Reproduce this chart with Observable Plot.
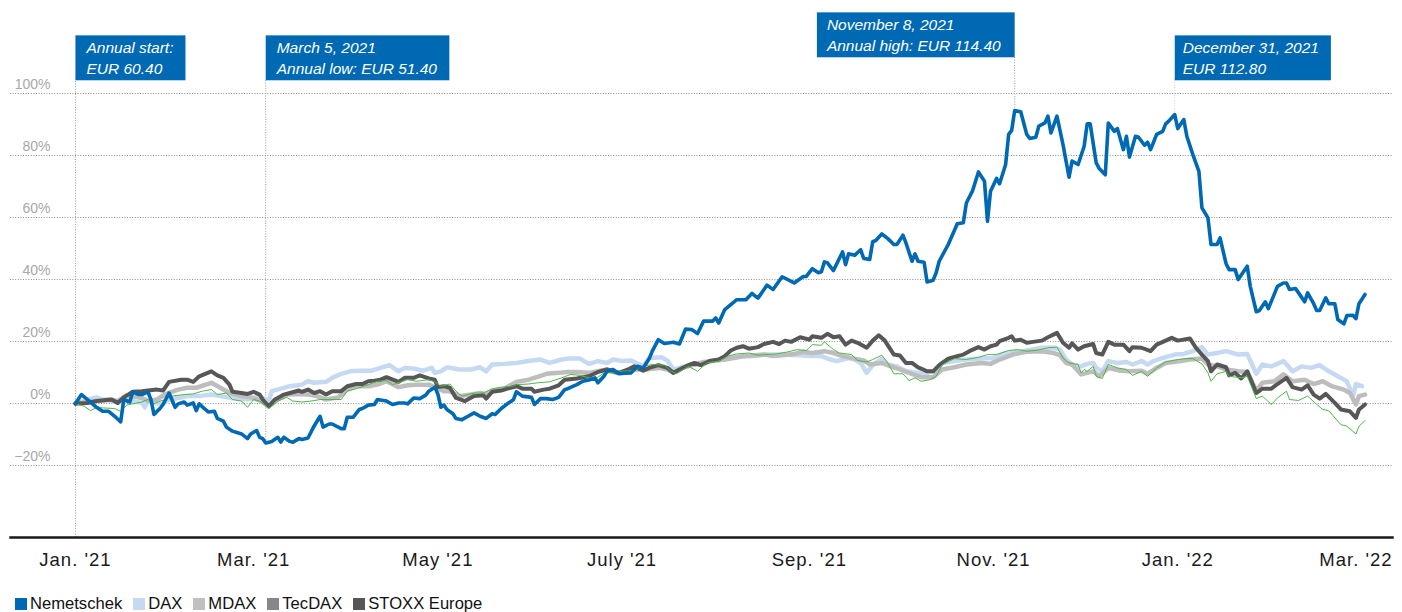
<!DOCTYPE html>
<html><head><meta charset="utf-8">
<script src="https://cdn.jsdelivr.net/npm/d3@7"></script>
<script src="https://cdn.jsdelivr.net/npm/@observablehq/plot@0.6"></script>
<style>
body{margin:0;background:#fff;font-family:"Liberation Sans",Arial,sans-serif;}
#legend{display:flex;align-items:center;height:20px;margin-top:2px;padding-left:15px;font-size:16.6px;color:#111;}
.item{display:flex;align-items:center;margin-right:11px;}
.sw{width:12px;height:12px;margin-right:3px;}
</style></head><body><div id="chart"></div><div id="legend"></div>
<script>
// ---- data: [days since 2021-01-01, % change] ----
const nemetschek = [[0,0],[2,2.9],[4,1.3],[7,-1.2],[9,-2.5],[11,-2.5],[13,-4.1],[15,-5.9],[16,1.3],[18,0.5],[19,3.8],[21,2.9],[22,2.9],[24,3.8],[25,1.3],[26,-3.5],[28,-1.6],[29,-0.3],[31,3.4],[33,-1.2],[34,-0.1],[36,0.5],[37,-0.5],[39,0.2],[40,-2.3],[41,-0.1],[43,-1.9],[44,-2.7],[46,-2.5],[47,-4.8],[49,-5.7],[50,-7.6],[52,-8.9],[54,-9.5],[55,-9.8],[57,-11.3],[58,-9.8],[60,-8.7],[61,-10.9],[62,-11.3],[63,-12.7],[65,-12.2],[67,-10.9],[68,-12.4],[69,-10.9],[71,-12.2],[72,-12.5],[74,-11.3],[75,-11.6],[77,-11.1],[79,-7.3],[81,-4.1],[82,-7.6],[84,-6.6],[85,-6.6],[88,-8.1],[89,-8.1],[90,-4.4],[92,-4.4],[94,-1.9],[95,-1.6],[97,-0.5],[99,-0.3],[100,1.3],[102,1.0],[103,0.8],[105,-0.3],[107,0.2],[109,0.2],[110,-0.1],[112,1.8],[114,1.6],[116,2.7],[117,4.0],[119,5.3],[120,3.1],[121,-1.2],[122,-0.5],[123,-1.9],[125,-3.3],[126,-4.8],[128,-5.2],[130,-4.1],[132,-3.0],[134,-4.1],[136,-4.8],[138,-3.3],[139,-3.5],[141,-1.6],[143,-0.1],[145,1.2],[146,3.8],[148,2.4],[151,2.0],[152,-0.3],[154,1.6],[156,1.6],[158,1.3],[160,2.0],[162,4.5],[163,4.8],[166,6.1],[168,7.2],[170,7.6],[172,8.3],[173,6.7],[175,8.8],[176,10.4],[178,11.0],[180,9.6],[182,9.8],[184,9.9],[186,12.0],[188,11.5],[190,14.5],[191,16.9],[193,20.6],[195,19.4],[198,19.8],[200,19.2],[202,24.0],[204,23.9],[206,22.6],[208,26.6],[211,26.6],[212,27.6],[213,26.0],[215,30.3],[219,33.5],[222,33.5],[224,35.5],[226,34.0],[228,36.8],[229,38.2],[231,36.8],[234,40.9],[238,38.9],[241,41.0],[242,41.0],[244,43.5],[246,42.2],[247,42.5],[248,45.7],[249,45.4],[251,42.9],[254,48.9],[255,44.8],[256,48.3],[258,47.8],[260,49.6],[261,46.8],[263,46.5],[264,52.2],[265,52.6],[267,54.7],[269,53.2],[271,51.3],[272,51.3],[274,54.3],[275,51.8],[277,45.9],[278,48.3],[279,45.9],[281,45.6],[282,39.2],[284,39.8],[285,42.2],[286,45.9],[289,51.3],[292,58.0],[294,58.3],[295,64.7],[297,68.5],[299,74.7],[301,71.7],[302,58.8],[303,68.5],[305,72.6],[306,70.9],[308,77.1],[309,86.8],[310,88.1],[311,94.5],[313,94.1],[315,86.8],[316,85.5],[318,85.9],[319,89.5],[321,90.5],[322,92.7],[323,87.3],[325,92.7],[327,83.5],[329,73.0],[330,78.2],[332,77.1],[334,83.0],[335,90.2],[336,90.2],[338,77.6],[339,75.8],[341,73.8],[342,90.5],[344,87.8],[345,88.7],[347,81.9],[348,86.2],[349,79.5],[351,86.2],[352,85.9],[354,83.3],[355,84.3],[356,81.9],[358,86.8],[360,87.8],[361,90.2],[362,91.1],[364,93.2],[365,88.7],[367,91.6],[368,86.2],[370,80.3],[372,74.9],[373,63.1],[375,59.9],[376,51.3],[378,51.3],[379,53.4],[381,45.1],[382,43.2],[384,43.2],[385,40.0],[388,44.3],[389,37.8],[391,29.6],[392,30.0],[394,32.8],[395,30.6],[398,37.8],[400,38.9],[401,38.9],[402,36.8],[404,37.1],[405,35.7],[407,32.8],[408,35.7],[410,32.2],[411,30.0],[412,30.0],[414,34.1],[415,32.2],[417,32.2],[418,27.1],[420,25.7],[421,28.4],[423,28.5],[424,27.4],[425,32.2],[427,35.2]];

const dax = [[0,0],[4,1.3],[7,2.0],[9,1.3],[12,0.8],[14,0.2],[17,1.3],[19,0.8],[22,0.2],[23,-1.2],[24,0.8],[26,0.2],[29,-0.1],[31,1.3],[34,1.8],[37,2.4],[41,2.4],[45,2.9],[48,2.4],[52,1.8],[57,1.3],[61,2.4],[62,1.8],[64,0.8],[65,4.0],[68,4.8],[71,5.6],[75,6.1],[77,7.2],[79,6.7],[83,7.0],[85,8.3],[88,9.6],[91,10.4],[94,10.6],[98,10.6],[101,11.5],[104,12.4],[107,10.4],[109,11.5],[112,11.3],[115,10.6],[118,11.5],[119,9.9],[121,10.4],[123,11.7],[127,11.0],[131,11.0],[134,11.7],[136,10.4],[138,12.6],[142,12.8],[146,13.1],[150,13.7],[154,14.2],[157,13.1],[161,14.2],[163,14.5],[167,14.5],[170,12.8],[173,13.7],[176,13.1],[178,14.2],[181,13.7],[184,13.9],[188,12.0],[190,14.7],[194,14.9],[196,13.9],[198,11.0],[200,11.5],[204,12.6],[207,12.6],[210,13.7],[214,14.2],[218,14.9],[224,15.3],[229,15.8],[234,15.8],[240,15.6],[243,15.3],[247,15.3],[250,14.2],[252,13.7],[256,14.7],[258,14.2],[260,13.1],[262,9.9],[264,12.4],[267,14.5],[269,12.6],[272,12.0],[275,10.4],[279,9.9],[282,9.9],[285,10.6],[287,13.1],[291,13.7],[295,14.2],[300,14.5],[304,14.7],[307,16.0],[311,16.7],[315,17.1],[320,18.0],[324,18.0],[326,17.4],[328,14.2],[330,12.6],[333,12.0],[335,12.8],[337,13.1],[338,11.5],[340,10.4],[342,13.7],[345,13.1],[348,13.4],[350,12.6],[353,13.7],[355,12.6],[357,13.7],[360,14.7],[364,15.8],[367,16.0],[370,16.9],[373,18.2],[375,15.8],[378,16.3],[381,16.9],[385,15.8],[388,16.0],[391,9.6],[393,12.6],[396,12.0],[400,13.7],[403,10.4],[406,12.0],[409,11.5],[412,12.4],[415,10.4],[418,8.8],[421,7.2],[423,2.4],[424,6.3],[426,5.6]];

const mdax = [[0,0],[11,1.3],[14,0.8],[17,2.7],[22,1.8],[24,0.8],[27,1.3],[30,3.1],[34,4.5],[37,5.1],[40,5.1],[45,6.7],[48,5.1],[51,3.4],[55,2.4],[58,2.0],[61,1.0],[64,-0.9],[67,1.3],[70,2.9],[74,3.1],[77,2.9],[80,2.4],[83,1.3],[87,2.0],[90,4.5],[93,5.6],[97,5.6],[100,6.1],[103,7.2],[107,5.3],[110,5.9],[113,6.1],[117,6.1],[120,4.8],[122,4.0],[124,4.0],[127,2.4],[131,2.9],[134,3.4],[136,3.1],[138,4.0],[142,4.8],[146,7.0],[150,7.7],[153,8.6],[156,9.6],[160,9.9],[163,10.2],[166,10.2],[170,9.9],[173,10.4],[176,11.0],[179,9.9],[183,10.4],[186,11.0],[189,11.0],[193,11.5],[196,11.0],[198,9.9],[201,11.5],[205,12.6],[208,13.4],[211,13.7],[215,14.2],[218,14.7],[221,15.3],[225,15.6],[228,15.8],[231,15.3],[234,15.6],[238,16.0],[241,16.7],[244,16.3],[248,16.9],[251,16.3],[254,15.3],[258,14.5],[261,13.9],[263,12.6],[267,13.1],[270,12.0],[273,11.0],[276,9.9],[280,8.5],[284,8.5],[287,11.0],[291,11.7],[295,12.6],[300,13.1],[303,12.8],[306,14.2],[311,16.0],[315,16.7],[320,16.9],[324,16.3],[326,15.6],[328,13.1],[330,12.6],[333,9.4],[335,9.9],[337,10.4],[339,8.8],[342,11.5],[346,10.6],[349,10.4],[353,10.6],[355,9.6],[358,11.5],[361,13.1],[366,13.7],[369,14.2],[373,14.5],[375,12.6],[378,12.0],[381,11.0],[385,10.4],[388,10.2],[391,4.2],[393,6.7],[397,7.2],[400,9.4],[403,7.2],[407,7.7],[410,6.3],[413,7.2],[416,5.6],[420,4.5],[422,3.4],[424,-0.3],[425,2.4],[427,2.9]];

const tecdax = [[0,0],[3,-0.9],[5,-2.3],[7,-1.2],[9,-1.4],[13,-1.6],[15,-2.5],[17,-0.5],[19,-0.1],[22,0.5],[24,1.3],[26,-0.1],[28,0.8],[30,1.3],[32,2.4],[36,2.9],[39,3.1],[42,4.0],[45,4.5],[47,2.9],[50,3.4],[52,1.3],[55,0.8],[57,-1.2],[59,1.3],[61,0.8],[64,-1.6],[67,0.8],[70,2.0],[72,0.8],[75,0.5],[78,0.8],[81,1.3],[84,1.3],[88,1.3],[90,4.0],[93,4.8],[97,6.1],[100,7.2],[103,7.4],[105,6.1],[110,7.7],[113,7.2],[117,7.7],[119,7.0],[121,5.6],[124,6.3],[126,4.0],[128,2.4],[132,3.4],[135,3.4],[138,4.8],[141,5.3],[145,5.6],[146,6.1],[150,6.3],[153,6.7],[157,7.0],[161,8.3],[164,9.4],[167,9.1],[171,8.1],[173,8.5],[175,9.9],[178,9.9],[181,10.4],[185,10.6],[188,12.0],[191,12.6],[195,12.4],[197,10.6],[199,9.6],[203,12.0],[206,10.4],[209,13.1],[213,13.7],[216,15.3],[219,16.0],[223,16.3],[226,15.6],[229,15.8],[232,16.0],[236,16.7],[239,17.4],[242,17.1],[244,19.0],[247,18.8],[248,19.9],[251,17.4],[253,16.3],[257,15.8],[259,13.9],[262,13.4],[264,14.2],[267,15.6],[269,13.1],[271,9.6],[274,9.6],[276,7.4],[278,8.3],[280,7.2],[283,7.7],[285,8.8],[287,12.5],[291,14.5],[295,14.2],[299,14.9],[302,15.8],[305,15.8],[309,17.1],[312,17.4],[315,16.9],[318,17.1],[322,18.0],[325,18.2],[327,14.7],[329,13.1],[332,12.6],[333,9.9],[334,11.0],[335,10.4],[337,12.0],[338,8.8],[340,8.1],[342,12.6],[345,11.5],[348,11.0],[350,9.1],[353,10.4],[355,8.8],[358,11.5],[361,13.4],[365,14.2],[368,14.5],[370,14.5],[373,12.8],[375,9.9],[376,7.2],[378,9.6],[381,10.4],[382,8.8],[386,8.3],[388,8.8],[391,1.6],[393,2.4],[396,-0.3],[398,1.8],[401,4.0],[402,1.3],[405,1.0],[408,2.4],[411,-0.3],[413,-1.9],[415,-2.3],[419,-6.8],[421,-7.3],[424,-9.8],[425,-7.3],[427,-5.5]];

const stoxx = [[0,0],[4,0.2],[7,0.8],[9,1.0],[12,1.3],[14,0.2],[16,2.0],[19,3.8],[22,4.0],[24,4.2],[27,4.5],[29,4.2],[31,7.0],[35,7.7],[37,7.7],[39,7.0],[41,8.8],[43,9.6],[45,10.4],[47,9.1],[49,8.3],[51,6.1],[52,3.8],[55,3.4],[57,3.1],[59,3.8],[61,2.9],[62,1.3],[64,-0.9],[66,1.3],[67,1.8],[69,2.9],[71,3.4],[74,4.2],[75,3.8],[77,4.5],[79,3.4],[81,4.0],[83,2.9],[85,4.0],[88,4.0],[90,5.6],[93,6.3],[95,6.3],[97,7.2],[99,7.4],[101,7.7],[103,8.5],[107,7.0],[109,8.3],[112,8.3],[114,9.1],[117,8.1],[119,7.7],[120,5.3],[122,5.6],[124,5.1],[126,1.8],[129,0.8],[132,2.4],[135,2.7],[136,1.6],[138,3.8],[141,4.2],[143,4.8],[146,5.6],[148,4.8],[151,4.8],[152,3.8],[155,4.5],[157,4.8],[160,5.9],[162,7.7],[166,8.1],[170,8.8],[173,10.2],[176,11.0],[178,10.4],[180,9.9],[183,11.0],[185,12.0],[188,10.6],[190,11.5],[193,12.4],[196,11.5],[198,9.9],[200,11.0],[203,12.4],[205,13.1],[207,12.4],[210,13.7],[213,14.2],[215,15.3],[217,17.1],[219,18.0],[221,18.5],[223,17.7],[226,18.2],[228,19.2],[231,19.9],[233,19.2],[235,20.3],[237,19.9],[240,21.4],[243,20.6],[244,21.7],[247,21.2],[249,22.5],[251,21.4],[253,21.7],[255,19.0],[257,20.3],[259,19.6],[262,18.0],[264,20.3],[266,22.0],[268,20.3],[271,15.8],[273,15.5],[275,13.1],[277,13.1],[279,11.7],[280,11.3],[282,10.4],[284,10.4],[286,12.4],[289,14.5],[292,15.3],[294,15.8],[296,16.9],[299,18.2],[301,17.4],[303,18.5],[305,19.0],[306,20.1],[309,21.2],[310,21.7],[311,20.3],[313,20.6],[315,19.6],[317,19.9],[320,20.3],[322,21.4],[325,22.8],[327,19.6],[329,18.0],[330,19.4],[332,17.4],[334,18.5],[337,19.2],[338,16.3],[340,15.8],[342,19.9],[344,19.0],[347,19.0],[349,16.9],[350,18.2],[353,18.0],[356,16.9],[358,19.0],[361,20.3],[363,21.2],[365,20.3],[369,21.0],[371,18.0],[373,15.8],[375,13.7],[376,10.4],[378,12.6],[381,11.7],[382,9.1],[384,9.9],[386,8.1],[388,10.4],[391,3.4],[393,4.8],[396,4.8],[398,6.3],[401,8.3],[403,5.3],[406,4.5],[408,5.9],[410,2.9],[412,1.6],[414,3.1],[417,0.2],[419,-1.9],[422,-2.5],[424,-4.6],[425,-1.9],[427,-0.3]];

const seriesNames = ["Nemetschek", "DAX", "MDAX", "TecDAX", "STOXX Europe"];
const legendColors = ["#0069b4", "#c6d9f1", "#c0c0c0", "#87878a", "#555555"];

const yTicks = [-20, 0, 20, 40, 60, 80, 100];
const xTickDates = ["2021-01-01","2021-03-01","2021-05-01","2021-07-01","2021-09-01","2021-11-01","2022-01-01","2022-03-01"];
const xTickLabels = ["Jan. '21","Mar. '21","May '21","July '21","Sep. '21","Nov. '21","Jan. '22","Mar. '22"];

const annDates = ["2021-01-01","2021-03-05","2021-11-08","2021-12-31"];
const annLabels = ["Annual start:\nEUR 60.40","March 5, 2021\nAnnual low: EUR 51.40","November 8, 2021\nAnnual high: EUR 114.40","December 31, 2021\nEUR 112.80"];
const annFrom = [-43.2, -12.7, 94.5, 93.2];   // where the pointer line ends (value axis)
const annTo = [104.5, 104.5, 111.6, 104.5];   // box bottom (value axis)

// ---- build ----
const start = Date.UTC(2021, 0, 1);
const day = n => new Date(start + n * 864e5);
const rows = arr => arr.map(([d, v]) => ({date: day(d), value: v}));

const xTicks = xTickDates.map(s => new Date(s + "T00:00:00Z"));
const xLabelMap = new Map(xTicks.map((d, i) => [+d, xTickLabels[i]]));

const annLayout = [
  {anchor: "start", dx: 11, dy: 38, color: "#9a9a9a"},
  {anchor: "start", dx: 11, dy: 38, color: "#9a9a9a"},
  {anchor: "end", dx: -13, dy: 15, color: "#9a9a9a"},
  {anchor: "start", dx: 8, dy: 38, color: "#cfcfcf"}
];
const annotations = annDates.map((s, i) => ({
  date: new Date(s + "T00:00:00Z"), label: annLabels[i], from: annFrom[i], to: annTo[i], color: annLayout[i].color
}));

const FONT = '"Liberation Sans", Arial, sans-serif';
const lineOpts = {x: "date", y: "value", strokeLinejoin: "round", strokeLinecap: "round"};

const chart = Plot.plot({
  width: 1402, height: 592,
  marginLeft: 10, marginRight: 10, marginTop: 0, marginBottom: 55,
  style: {fontFamily: FONT, background: "transparent", overflow: "visible"},
  color: {type: "identity"},
  x: {type: "utc", domain: [day(-21.5), day(436.1)]},
  y: {domain: [-43.2, 130]},
  marks: [
    Plot.gridY(yTicks, {stroke: "#8c8c8c", strokeOpacity: 1, strokeWidth: 1, strokeDasharray: "1,1.6"}),
    Plot.axisY(yTicks, {anchor: "left", tickSize: 0, tickPadding: 0, dx: 40, dy: -9,
      fontSize: 14, fill: "#a8a8a8", tickFormat: d => (d < 0 ? "\u2212" + (-d) : d) + "%", label: null}),
    Plot.ruleX(annotations, {x: "date", y1: "from", y2: "to", stroke: "color", strokeWidth: 1, strokeDasharray: "1,1.6"}),
    Plot.line(rows(dax), {...lineOpts, stroke: "#c5daf2", strokeWidth: 4.5}),
    Plot.line(rows(mdax), {...lineOpts, stroke: "#bdbdbd", strokeWidth: 4.5}),
    Plot.line(rows(stoxx), {...lineOpts, stroke: "#575757", strokeWidth: 4}),
    Plot.line(rows(tecdax), {...lineOpts, stroke: "#4cb848", strokeWidth: 1}),
    Plot.line(rows(nemetschek), {...lineOpts, stroke: "#0069b4", strokeWidth: 3.6}),
    Plot.frame({anchor: "bottom", stroke: "#1a1a1a", strokeWidth: 2.5}),
    Plot.axisX(xTicks, {anchor: "bottom", tickSize: 0, tickPadding: 15, fontSize: 18.5, fill: "#1a1a1a",
      tickFormat: d => xLabelMap.get(+d), label: null}),
    ...annotations.map((a, i) => Plot.text([a], {
      x: "date", text: "label", frameAnchor: "top", lineAnchor: "top",
      textAnchor: annLayout[i].anchor, dx: annLayout[i].dx, dy: annLayout[i].dy,
      fontSize: 15.5, fontStyle: "italic", lineHeight: 1.35, fill: "white"
    }))
  ]
});
document.getElementById("chart").appendChild(chart);
chart.querySelectorAll('g[aria-label="x-axis tick label"] text').forEach(t => t.setAttribute("letter-spacing", "1"));

// blue boxes behind annotation texts (text left-aligned inside each box)
const NS = "http://www.w3.org/2000/svg";
chart.querySelectorAll('g[aria-label="text"]').forEach((g, i) => {
  const L = annLayout[i];
  g.querySelectorAll("text").forEach(t => {
    let b = t.getBBox();
    let x0, x1;
    if (L.anchor === "start") { x0 = -L.dx; x1 = b.x + b.width + 12; }
    else {
      const left = b.x;
      t.setAttribute("text-anchor", "start");
      t.querySelectorAll("tspan").forEach(s => s.setAttribute("x", left));
      b = t.getBBox();
      x1 = -L.dx; x0 = b.x - 9;
    }
    const r = document.createElementNS(NS, "rect");
    r.setAttribute("x", x0);
    r.setAttribute("width", x1 - x0);
    r.setAttribute("y", b.y - 4);
    r.setAttribute("height", b.height + 7);
    r.setAttribute("fill", "#0069b4");
    const tr = t.getAttribute("transform");
    if (tr) r.setAttribute("transform", tr);
    g.insertBefore(r, t);
  });
});

// legend
const legend = document.getElementById("legend");
seriesNames.forEach((n, i) => {
  const it = document.createElement("div");
  it.className = "item";
  it.innerHTML = `<span class="sw" style="background:${legendColors[i]}"></span><span>${n}</span>`;
  legend.appendChild(it);
});
</script></body></html>
